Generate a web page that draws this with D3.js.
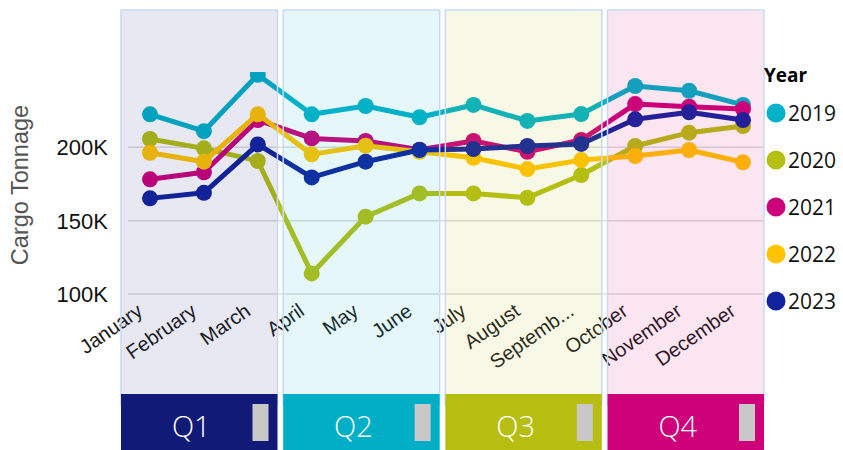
<!DOCTYPE html>
<html>
<head>
<meta charset="utf-8">
<script src="https://cdn.jsdelivr.net/npm/d3@7/dist/d3.min.js"></script>
<style>
  html, body { margin: 0; padding: 0; background: #ffffff; }
  svg { display: block; }
</style>
</head>
<body>
<svg id="chart" width="843" height="450"></svg>
<script>
// ---- data ----
const months = ["January","February","March","April","May","June","July","August","September","October","November","December"];
const monthLabels = ["January","February","March","April","May","June","July","August","Septemb...","October","November","December"];
const years = ["2019","2020","2021","2022","2023"];
const yearColors = ["#01B2C8","#B5BF14","#CC007A","#FFC300","#12239E"];
const v2019 = [222500, 211000, 249500, 222500, 228200, 220500, 228900, 218000, 222700, 241800, 238600, 228900];
const v2020 = [205700, 199300, 190700, 114000, 152700, 168600, 168600, 165600, 181100, 200900, 210000, 214500];
const v2021 = [178200, 183000, 218600, 206100, 204300, 198400, 204300, 197000, 205000, 229500, 227700, 226100];
const v2022 = [196300, 190200, 222500, 195200, 201100, 197000, 192900, 185200, 191300, 194100, 198200, 189800];
const v2023 = [165200, 169000, 202000, 179500, 190200, 198200, 198800, 200900, 202300, 219100, 223900, 218600];
const seriesValues = [v2019, v2020, v2021, v2022, v2023];
const yTicks = [100000, 150000, 200000];
const quarters = ["Q1","Q2","Q3","Q4"];
const quarterColors = ["#111A76","#00AFC6","#B7BE12","#CE007A"];
const yTitle = "Cargo Tonnage";
const legendTitle = "Year";

// ---- scales ----
const svg = d3.select("#chart");
const x = d3.scalePoint().domain(months).range([150, 743]);
const y = d3.scaleLinear().domain([100000, 250000]).range([294, 74]);
const q = d3.scaleBand().domain(quarters).range([121, 764]).paddingInner(0.035).paddingOuter(0);
const fmt = d => d3.format("~s")(d).replace("k", "K");

// clip
svg.append("defs").append("clipPath").attr("id", "plotclip")
  .append("rect").attr("x", 0).attr("y", 72).attr("width", 843).attr("height", 330);

// gridlines
svg.append("g").selectAll("line").data(yTicks).join("line")
  .attr("x1", 128).attr("x2", 763)
  .attr("y1", d => y(d)).attr("y2", d => y(d))
  .attr("stroke", "#DCDCDC").attr("stroke-width", 1.5);

// y axis labels
svg.append("g").selectAll("text").data(yTicks).join("text")
  .attr("x", 108).attr("y", d => y(d)).attr("dy", "0.36em")
  .attr("text-anchor", "end")
  .attr("font-family", "Liberation Sans, Arial, sans-serif")
  .attr("font-size", 22).attr("fill", "#111111")
  .text(fmt);

// y title
svg.append("text")
  .attr("transform", "translate(28,185) rotate(-90)")
  .attr("text-anchor", "middle")
  .attr("font-family", "Liberation Sans, Arial, sans-serif")
  .attr("font-size", 23.5).attr("fill", "#555555")
  .text(yTitle);

// lines
const line = d3.line().x((d, i) => x(months[i])).y(d => y(d));
const gLines = svg.append("g").attr("clip-path", "url(#plotclip)");
years.forEach((yr, k) => {
  const vals = seriesValues[k];
  gLines.append("path").datum(vals)
    .attr("d", line).attr("fill", "none")
    .attr("stroke", yearColors[k]).attr("stroke-width", 5)
    .attr("stroke-linejoin", "round");
  gLines.append("g").selectAll("circle").data(vals).join("circle")
    .attr("cx", (d, i) => x(months[i])).attr("cy", d => y(d))
    .attr("r", 8).attr("fill", yearColors[k]);
});

// x labels
svg.append("g").selectAll("text").data(monthLabels).join("text")
  .attr("transform", (d, i) => `translate(${x(months[i]) - 6},314) rotate(-35)`)
  .attr("text-anchor", "end")
  .attr("font-family", "Liberation Sans, Arial, sans-serif")
  .attr("font-size", 20).attr("fill", "#1a1a1a")
  .text(d => d);

// quarter panels overlay
svg.append("g").selectAll("rect").data(quarters).join("rect")
  .attr("x", d => q(d)).attr("y", 10)
  .attr("width", q.bandwidth()).attr("height", 395)
  .attr("fill", (d, i) => quarterColors[i]).attr("fill-opacity", 0.1)
  .attr("stroke", "#C6DBF3").attr("stroke-width", 1.5);

// quarter bars
const gq = svg.append("g");
gq.selectAll("rect.bar").data(quarters).join("rect").attr("class", "bar")
  .attr("x", d => q(d)).attr("y", 394)
  .attr("width", q.bandwidth()).attr("height", 56)
  .attr("fill", (d, i) => quarterColors[i]);
gq.selectAll("rect.btn").data(quarters).join("rect").attr("class", "btn")
  .attr("x", d => q(d) + q.bandwidth() - 25).attr("y", 404)
  .attr("width", 16).attr("height", 37)
  .attr("fill", "#C8C8C8");
gq.selectAll("text").data(quarters).join("text")
  .attr("x", d => q(d) + q.bandwidth() / 2 - 8).attr("y", 437)
  .attr("text-anchor", "middle")
  .attr("font-family", "Open Sans, Lato, sans-serif").attr("font-weight", 300)
  .attr("font-size", 29).attr("fill", "#ffffff")
  .text(d => d);

// legend
svg.append("text").attr("x", 764).attr("y", 82)
  .attr("font-family", "Open Sans, sans-serif").attr("font-weight", 700)
  .attr("font-size", 19).attr("fill", "#000")
  .text(legendTitle);
const lg = svg.append("g").selectAll("g").data(years).join("g")
  .attr("transform", (d, i) => `translate(776,${113 + i * 47})`);
lg.append("circle").attr("r", 9.5).attr("fill", (d, i) => yearColors[i]);
lg.append("text").attr("x", 12).attr("dy", "0.36em")
  .attr("font-family", "Open Sans, sans-serif").attr("font-size", 21).attr("fill", "#111")
  .text(d => d);
</script>
</body>
</html>
